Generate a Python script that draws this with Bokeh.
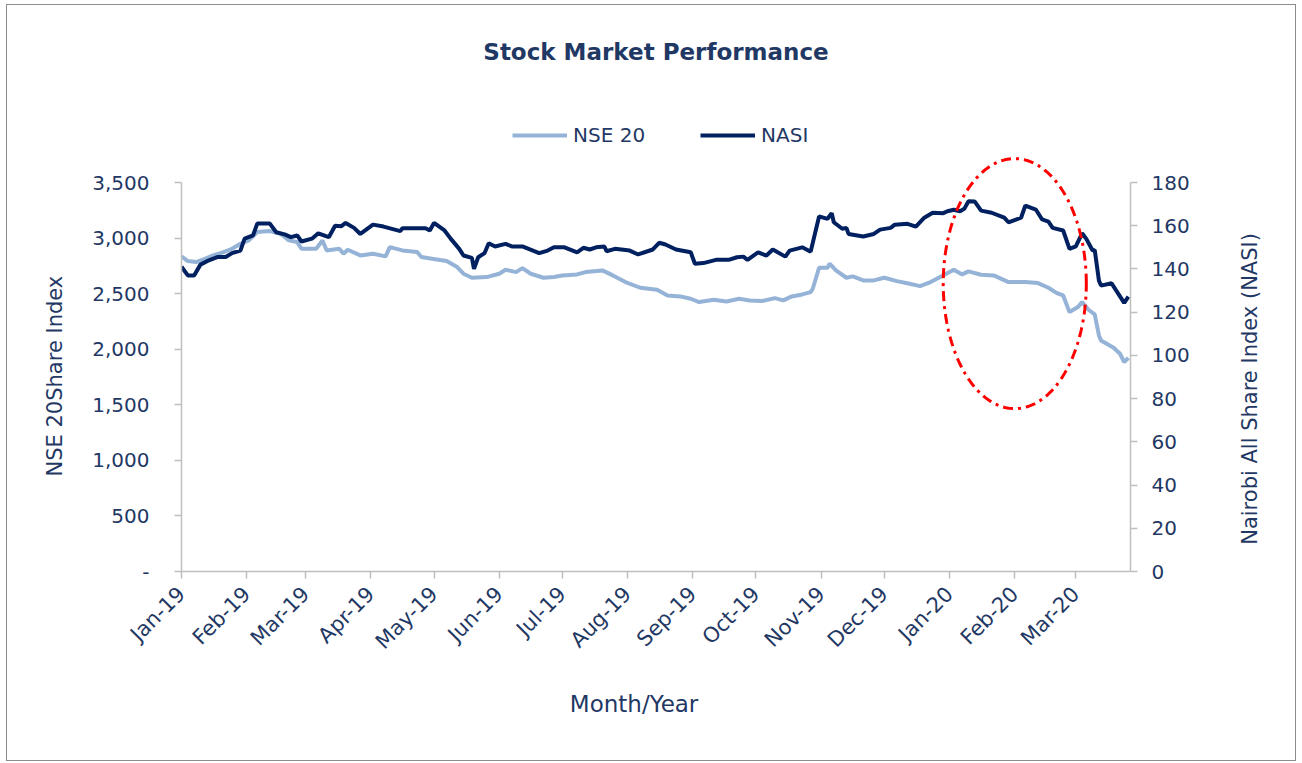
import math
import numpy as np
import pandas as pd
from bokeh.plotting import figure
from bokeh.models import (Range1d, LinearAxis, FixedTicker, Legend, LegendItem,
                          PolyAnnotation, ColumnDataSource, Label)
from bokeh.embed import file_html
from bokeh.resources import INLINE

# ---------------- data ----------------
nse_dates = ["2019-01-01", "2019-01-04", "2019-01-08", "2019-01-11", "2019-01-16", "2019-01-21",
             "2019-01-25", "2019-01-29", "2019-02-02", "2019-02-06", "2019-02-12", "2019-02-17",
             "2019-02-21", "2019-02-25", "2019-02-27", "2019-03-06", "2019-03-09", "2019-03-11",
             "2019-03-17", "2019-03-19", "2019-03-21", "2019-03-27", "2019-04-02", "2019-04-08",
             "2019-04-10", "2019-04-16", "2019-04-23", "2019-04-25", "2019-04-30", "2019-05-07",
             "2019-05-12", "2019-05-15", "2019-05-19", "2019-05-26", "2019-06-01", "2019-06-04",
             "2019-06-09", "2019-06-12", "2019-06-16", "2019-06-22", "2019-06-27", "2019-07-01",
             "2019-07-08", "2019-07-12", "2019-07-20", "2019-07-25", "2019-07-31", "2019-08-07",
             "2019-08-15", "2019-08-20", "2019-08-26", "2019-08-31", "2019-09-04", "2019-09-11",
             "2019-09-17", "2019-09-23", "2019-09-28", "2019-10-04", "2019-10-10", "2019-10-14",
             "2019-10-18", "2019-10-23", "2019-10-27", "2019-10-28", "2019-10-31", "2019-11-04",
             "2019-11-05", "2019-11-08", "2019-11-13", "2019-11-16", "2019-11-21", "2019-11-26",
             "2019-12-01", "2019-12-07", "2019-12-13", "2019-12-18", "2019-12-23", "2019-12-28",
             "2020-01-03", "2020-01-07", "2020-01-10", "2020-01-16", "2020-01-22", "2020-01-29",
             "2020-02-06", "2020-02-12", "2020-02-17", "2020-02-21", "2020-02-24", "2020-02-27",
             "2020-03-02", "2020-03-04", "2020-03-07", "2020-03-10", "2020-03-12", "2020-03-13",
             "2020-03-19", "2020-03-22", "2020-03-24", "2020-03-26"]
nse_values = [2835, 2793, 2784, 2805, 2844, 2874,
              2904, 2949, 2979, 3054, 3063, 3039,
              2979, 2964, 2904, 2904, 2979, 2889,
              2904, 2859, 2895, 2844, 2859, 2835,
              2919, 2889, 2874, 2829, 2814, 2793,
              2739, 2679, 2643, 2649, 2679, 2715,
              2694, 2730, 2679, 2643, 2649, 2664,
              2673, 2694, 2709, 2664, 2604, 2553,
              2535, 2484, 2475, 2454, 2424, 2445,
              2430, 2454, 2439, 2433, 2460, 2439,
              2475, 2493, 2514, 2544, 2733, 2733,
              2769, 2709, 2643, 2655, 2619, 2619,
              2643, 2613, 2589, 2568, 2604, 2655,
              2715, 2673, 2700, 2670, 2664, 2604,
              2604, 2595, 2553, 2505, 2484, 2334,
              2379, 2424, 2355, 2313, 2124, 2079,
              2013, 1959, 1884, 1923]

nasi_dates = ["2019-01-01", "2019-01-04", "2019-01-07", "2019-01-10", "2019-01-14", "2019-01-18",
              "2019-01-22", "2019-01-25", "2019-01-29", "2019-01-31", "2019-02-04", "2019-02-06",
              "2019-02-12", "2019-02-15", "2019-02-19", "2019-02-22", "2019-02-25", "2019-02-27",
              "2019-03-04", "2019-03-07", "2019-03-12", "2019-03-15", "2019-03-18", "2019-03-20",
              "2019-03-24", "2019-03-27", "2019-04-02", "2019-04-07", "2019-04-15", "2019-04-16",
              "2019-04-27", "2019-04-29", "2019-05-01", "2019-05-06", "2019-05-09", "2019-05-13",
              "2019-05-15", "2019-05-19", "2019-05-20", "2019-05-22", "2019-05-25", "2019-05-27",
              "2019-05-30", "2019-06-04", "2019-06-07", "2019-06-12", "2019-06-20", "2019-06-24",
              "2019-06-27", "2019-07-02", "2019-07-08", "2019-07-11", "2019-07-14", "2019-07-17",
              "2019-07-21", "2019-07-22", "2019-07-26", "2019-08-02", "2019-08-06", "2019-08-13",
              "2019-08-16", "2019-08-19", "2019-08-24", "2019-08-31", "2019-09-02", "2019-09-06",
              "2019-09-12", "2019-09-18", "2019-09-22", "2019-09-25", "2019-09-27", "2019-10-02",
              "2019-10-06", "2019-10-09", "2019-10-15", "2019-10-17", "2019-10-23", "2019-10-27",
              "2019-10-31", "2019-11-04", "2019-11-06", "2019-11-07", "2019-11-11", "2019-11-13",
              "2019-11-14", "2019-11-21", "2019-11-26", "2019-11-29", "2019-12-04", "2019-12-06",
              "2019-12-12", "2019-12-16", "2019-12-20", "2019-12-24", "2019-12-29", "2019-12-31",
              "2020-01-03", "2020-01-06", "2020-01-08", "2020-01-10", "2020-01-13", "2020-01-16",
              "2020-01-21", "2020-01-27", "2020-01-29", "2020-02-04", "2020-02-06", "2020-02-11",
              "2020-02-14", "2020-02-17", "2020-02-19", "2020-02-24", "2020-02-27", "2020-03-01",
              "2020-03-04", "2020-03-06", "2020-03-09", "2020-03-10", "2020-03-12", "2020-03-13",
              "2020-03-18", "2020-03-20", "2020-03-24", "2020-03-26"]
nasi_values = [141, 137, 137, 142, 144, 145.5,
               145.5, 147.3, 148.5, 154, 155.5, 161,
               161, 157, 156, 154.7, 155.5, 152.7,
               154, 156.5, 154.7, 160, 159.8, 161.3,
               159, 156.2, 160.5, 159.6, 157.5, 158.8,
               158.8, 157.8, 161.3, 157.8, 153.9, 149.3,
               146.2, 145.1, 140, 145.4, 147.3, 151.9,
               150.4, 151.6, 150.4, 150.4, 147.3, 148.5,
               150, 150, 147.7, 149.8, 149, 150,
               150.4, 148.2, 149.3, 148.5, 146.7, 149,
               152.1, 151.3, 149, 147.7, 142.4, 142.7,
               144.2, 144.2, 145.4, 145.7, 144.2, 147.7,
               146.2, 149, 145.7, 148.5, 150, 148,
               164.3, 163.2, 165.8, 161.6, 158.6, 159,
               156.2, 155, 156.2, 158.2, 159, 160.5,
               160.9, 159.6, 163.7, 166, 165.8, 166.7,
               167.4, 166.7, 167.8, 171.3, 171.2, 167,
               166, 163.7, 161.6, 163.7, 169.3, 167.5,
               162.9, 161.9, 159, 157.8, 149.3, 150.4,
               156.5, 153.9, 148.5, 148.8, 134.6, 132.3,
               133.4, 130.3, 124.3, 127.2]

month_ticks = ["2019-01-01", "2019-02-01", "2019-03-01", "2019-04-01", "2019-05-01",
               "2019-06-01", "2019-07-01", "2019-08-01", "2019-09-01", "2019-10-01",
               "2019-11-01", "2019-12-01", "2020-01-01", "2020-02-01", "2020-03-01"]
month_labels = ["Jan-19", "Feb-19", "Mar-19", "Apr-19", "May-19", "Jun-19", "Jul-19",
                "Aug-19", "Sep-19", "Oct-19", "Nov-19", "Dec-19", "Jan-20", "Feb-20", "Mar-20"]
x_start, x_end = "2019-01-01", "2020-03-27"

nse_ticks = [0, 500, 1000, 1500, 2000, 2500, 3000, 3500]
nse_tick_labels = ["-", "500", "1,000", "1,500", "2,000", "2,500", "3,000", "3,500"]
nasi_ticks = [0, 20, 40, 60, 80, 100, 120, 140, 160, 180]

# highlight ellipse (center date, center NSE value, half width in days, half height in NSE units)
ell_center_date = "2020-02-01"
ell_center_val = 2590
ell_half_days = 34
ell_half_val = 1125

# ---------------- layout (px) ----------------
TOP_PAD = 15           # canvas px above the extended frame
AXIS_PX = 389          # px between 0 and the top tick
FRAME_PX = 551         # px of the (extended) frame height, title & legend live inside
HEADROOM = FRAME_PX / AXIS_PX
NBSP = "\u00a0"        # padding that shifts the axis titles along their axis

# ---------------- styling ----------------
TEXT = "#1F3864"
FONT = "DejaVu Sans"
AXIS_GRAY = "#BFBFBF"
NSE_COLOR = "#95B3D7"
NASI_COLOR = "#002060"


def ms(d):
    return int(pd.Timestamp(d).value // 10**6)


nse_src = ColumnDataSource(dict(x=pd.to_datetime(nse_dates), y=nse_values))
nasi_src = ColumnDataSource(dict(x=pd.to_datetime(nasi_dates), y=nasi_values))

p = figure(width=1290, height=757, x_axis_type="datetime", title=None,
           output_backend="svg", toolbar_location=None,
           x_range=Range1d(ms(x_start), ms(x_end)),
           y_range=Range1d(0, nse_ticks[-1] * HEADROOM),
           min_border_left=174, min_border_right=167, min_border_top=TOP_PAD,
           min_border_bottom=191,
           styles={"border": "1px solid #8C8C8C", "margin": "4px 0 0 6px"})
p.extra_y_ranges = {"nasi": Range1d(0, nasi_ticks[-1] * HEADROOM)}
p.outline_line_color = None
p.xgrid.grid_line_color = None
p.ygrid.grid_line_color = None
p.background_fill_color = "white"
p.border_fill_color = "white"

nse_r = p.line("x", "y", source=nse_src, line_color=NSE_COLOR, line_width=4)
nasi_r = p.line("x", "y", source=nasi_src, line_color=NASI_COLOR, line_width=4,
                y_range_name="nasi")


def style_axis(ax):
    ax.axis_line_color = AXIS_GRAY
    ax.axis_line_width = 1.5
    ax.major_tick_line_color = AXIS_GRAY
    ax.major_tick_line_width = 1.5
    ax.major_tick_in = 0
    ax.major_tick_out = 7
    ax.minor_tick_line_color = None
    ax.major_label_text_color = TEXT
    ax.major_label_text_font = FONT
    ax.major_label_text_font_size = "20px"
    ax.axis_label_text_color = TEXT
    ax.axis_label_text_font = FONT
    ax.axis_label_text_font_size = "21px"
    ax.axis_label_text_font_style = "normal"


# x axis
xa = p.xaxis[0]
style_axis(xa)
xa.ticker = FixedTicker(ticks=[ms(d) for d in month_ticks])
xa.major_label_overrides = {ms(d): lab for d, lab in zip(month_ticks, month_labels)}
xa.major_label_orientation = math.pi / 4
xa.major_label_text_font_size = "21px"
xa.major_label_standoff = 12
xa.axis_label = "Month/Year" + NBSP * 6
xa.axis_label_text_font_size = "23px"
xa.axis_label_standoff = 26

# left axis
ya = p.yaxis[0]
style_axis(ya)
ya.ticker = FixedTicker(ticks=nse_ticks)
ya.bounds = (nse_ticks[0], nse_ticks[-1])
ya.major_label_overrides = {t: lab for t, lab in zip(nse_ticks, nse_tick_labels)}
ya.major_label_standoff = 25
ya.axis_label = "NSE 20Share Index" + NBSP * 24
ya.axis_label_standoff = 22

# right axis (title reads bottom-to-top, as in the reference)
NASI_TITLE = "Nairobi All Share Index (NASI)"
ra = LinearAxis(y_range_name="nasi", ticker=FixedTicker(ticks=nasi_ticks))
style_axis(ra)
ra.bounds = (nasi_ticks[0], nasi_ticks[-1])
ra.major_label_standoff = 14
ra.axis_label_standoff = 57
aligned = False
if "axis_label_align" in ra.properties():
    for opt in ("start", "left"):
        try:
            ra.axis_label_align = opt
            aligned = True
            break
        except Exception:
            pass
if aligned:
    ra.axis_label = NBSP * 4 + NASI_TITLE
    ra.axis_label_orientation = math.pi / 2
else:
    ra.axis_label = NBSP * 26 + NASI_TITLE
    ra.axis_label_orientation = "parallel"
p.add_layout(ra, "right")

# highlight ellipse
t = np.linspace(0, 2 * np.pi, 181)
cx = ms(ell_center_date)
ell_xs = list(cx + ell_half_days * 86400000 * np.cos(t))
ell_ys = list(ell_center_val + ell_half_val * np.sin(t))
ell = PolyAnnotation(xs=ell_xs, ys=ell_ys, fill_alpha=0, fill_color=None,
                     line_color="#FF0000", line_alpha=1.0, line_width=3,
                     line_dash="10 5 3 5")
p.add_layout(ell)

# legend (inside the extended frame, above the top tick)
legend = Legend(items=[LegendItem(label="NSE 20", renderers=[nse_r]),
                       LegendItem(label="NASI", renderers=[nasi_r])],
                orientation="horizontal", location=(331, 424),
                glyph_width=55, glyph_height=20, label_height=20,
                label_standoff=6, spacing=55, padding=0, margin=0,
                border_line_color=None, background_fill_alpha=0,
                label_text_font=FONT, label_text_font_size="20px",
                label_text_color=TEXT)
p.add_layout(legend, "center")

# chart title
title = Label(x=474.5, y=520, x_units="screen", y_units="screen",
              text="Stock Market Performance", text_font=FONT, text_font_size="23px",
              text_font_style="bold", text_color=TEXT, text_align="center",
              text_baseline="middle")
p.add_layout(title)

open("out.html", "w").write(file_html(p, INLINE))
